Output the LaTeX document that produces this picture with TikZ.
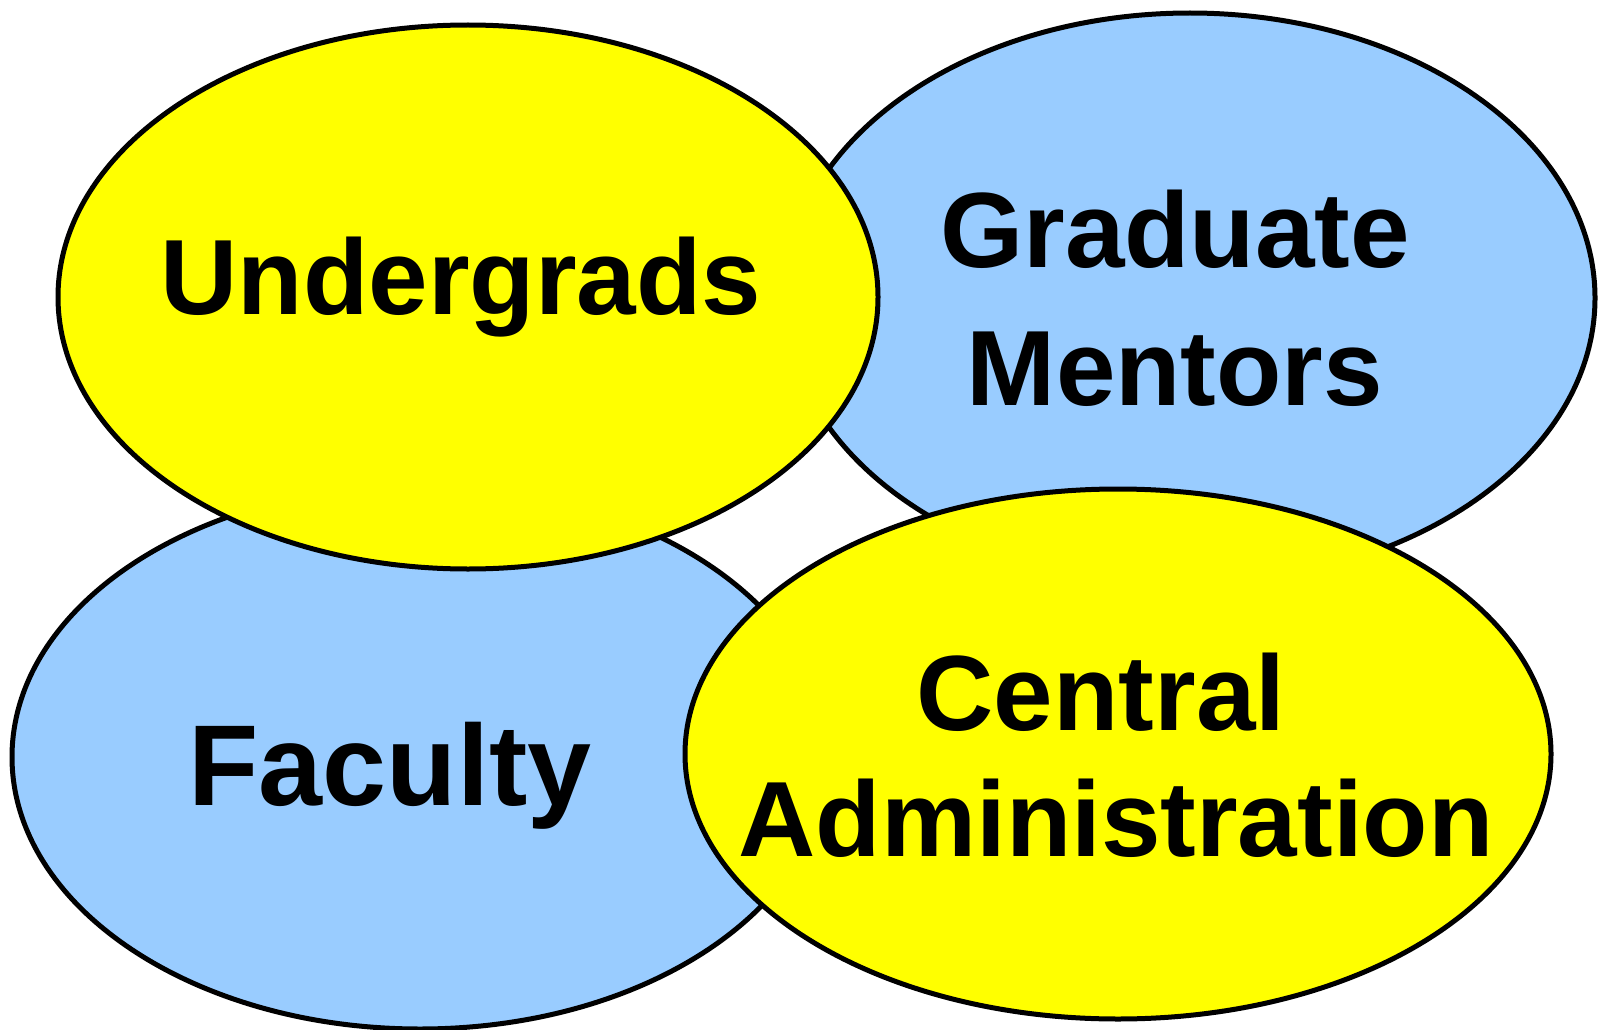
\documentclass[tikz,border=0pt]{standalone}
\usepackage{fontspec}
\setmainfont{Liberation Sans}
\usepackage{tikz}
\usetikzlibrary{shapes,positioning}
\definecolor{lblue}{HTML}{99CCFF}
\definecolor{yel}{HTML}{FFFF00}
\tikzset{
  blob/.style={ellipse,draw=black,line width=5pt,inner sep=0pt},
  word/.style={anchor=base,inner sep=0pt,font=\fontsize{107}{120}\selectfont\bfseries}
}
\begin{document}
\begin{tikzpicture}[x=1pt,y=-1pt]
    \useasboundingbox (0,0) rectangle (1598,1030);
    \node[blob,fill=lblue,minimum width=810pt,minimum height=570pt] (G) at (1190,298) {};
    \node[blob,fill=lblue,minimum width=816pt,minimum height=544pt] (F) at (420,757) {};
    \node[blob,fill=yel,minimum width=820pt,minimum height=544pt]   (U) at (468,297) {};
    \node[blob,fill=yel,minimum width=866pt,minimum height=530pt]   (C) at (1118,754) {};
    \node[word] (U-1) at (461,314)  {Undergrads};
    \node[word] (G-1) at (1175,267) {Graduate};
    \node[word] (G-2) at (1175,405) {Mentors};
    \node[word,font=\fontsize{115}{130}\selectfont\bfseries] (F-1) at (390,805) {Faculty};
    \node[word] (C-1) at (1101,730) {Central};
    \node[word] (C-2) at (1116,856) {Administration};
  \end{tikzpicture}
\end{document}
